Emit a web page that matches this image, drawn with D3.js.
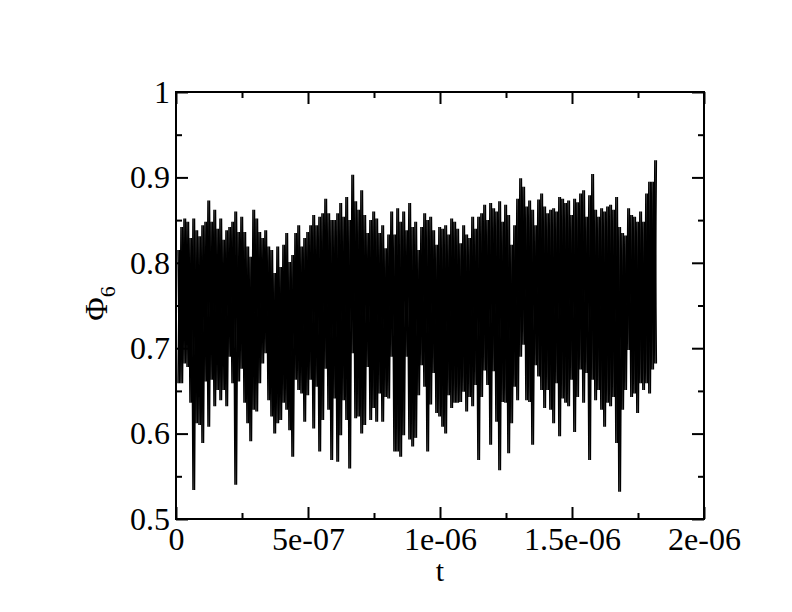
<!DOCTYPE html>
<meta charset="utf-8">
<script src="https://d3js.org/d3.v7.min.js"></script>
<style>
  body { margin: 0; background: #fff; }
  text { font-family: "Liberation Serif", "Times New Roman", serif; fill: #000; }
</style>
<div id="my_dataviz"></div>
<script>

// sampling of the series: start time and step (s)
var tStart = 7.6e-9,
    tStep = 1.136e-8;

// upper peaks of Phi_6, one per sample step
var phiHi = [
  0.815, 0.842, 0.852, 0.848, 0.829, 0.852, 0.838, 0.831, 0.844, 0.848,
  0.873, 0.848, 0.862, 0.840, 0.852, 0.827, 0.838, 0.842, 0.848, 0.860,
  0.836, 0.854, 0.836, 0.819, 0.807, 0.862, 0.852, 0.836, 0.829, 0.838,
  0.819, 0.815, 0.788, 0.819, 0.795, 0.821, 0.835, 0.801, 0.809, 0.835,
  0.844, 0.819, 0.829, 0.836, 0.844, 0.856, 0.844, 0.854, 0.858, 0.875,
  0.858, 0.850, 0.850, 0.858, 0.870, 0.854, 0.877, 0.850, 0.903, 0.872,
  0.862, 0.885, 0.856, 0.835, 0.850, 0.860, 0.852, 0.835, 0.844, 0.817,
  0.833, 0.860, 0.833, 0.864, 0.848, 0.860, 0.838, 0.870, 0.842, 0.848,
  0.815, 0.842, 0.858, 0.850, 0.854, 0.838, 0.821, 0.842, 0.840, 0.844,
  0.833, 0.852, 0.848, 0.840, 0.823, 0.844, 0.833, 0.829, 0.854, 0.840,
  0.854, 0.858, 0.868, 0.850, 0.870, 0.864, 0.860, 0.872, 0.848, 0.868,
  0.856, 0.821, 0.844, 0.875, 0.899, 0.889, 0.866, 0.873, 0.862, 0.844,
  0.874, 0.881, 0.866, 0.858, 0.862, 0.864, 0.860, 0.877, 0.875, 0.870,
  0.873, 0.856, 0.875, 0.871, 0.881, 0.885, 0.854, 0.879, 0.904, 0.862,
  0.854, 0.864, 0.860, 0.866, 0.868, 0.862, 0.877, 0.842, 0.835, 0.832,
  0.864, 0.856, 0.854, 0.848, 0.860, 0.848, 0.881, 0.895, 0.895, 0.920
];

// lower dips of Phi_6, one per sample step
var phiLo = [
  0.659, 0.659, 0.682, 0.678, 0.636, 0.534, 0.612, 0.610, 0.589, 0.661,
  0.608, 0.663, 0.632, 0.651, 0.639, 0.651, 0.632, 0.690, 0.659, 0.540,
  0.661, 0.676, 0.636, 0.612, 0.591, 0.628, 0.626, 0.659, 0.682, 0.694,
  0.639, 0.620, 0.600, 0.612, 0.616, 0.636, 0.628, 0.604, 0.573, 0.663,
  0.651, 0.647, 0.614, 0.645, 0.663, 0.606, 0.655, 0.579, 0.616, 0.676,
  0.628, 0.569, 0.641, 0.567, 0.598, 0.639, 0.616, 0.559, 0.694, 0.618,
  0.620, 0.600, 0.610, 0.678, 0.616, 0.630, 0.614, 0.647, 0.614, 0.643,
  0.641, 0.690, 0.579, 0.579, 0.573, 0.598, 0.690, 0.593, 0.585, 0.595,
  0.645, 0.680, 0.655, 0.579, 0.634, 0.671, 0.624, 0.620, 0.608, 0.600,
  0.645, 0.630, 0.636, 0.636, 0.637, 0.649, 0.626, 0.643, 0.632, 0.657,
  0.569, 0.643, 0.674, 0.657, 0.587, 0.673, 0.614, 0.557, 0.637, 0.636,
  0.577, 0.612, 0.655, 0.639, 0.690, 0.704, 0.639, 0.637, 0.587, 0.680,
  0.667, 0.651, 0.630, 0.651, 0.628, 0.612, 0.659, 0.597, 0.641, 0.636,
  0.632, 0.663, 0.602, 0.643, 0.675, 0.636, 0.671, 0.569, 0.663, 0.639,
  0.651, 0.628, 0.608, 0.636, 0.632, 0.643, 0.589, 0.532, 0.628, 0.651,
  0.698, 0.643, 0.647, 0.624, 0.659, 0.651, 0.659, 0.647, 0.675, 0.682
];

// ticks
var xMajor = [0, 5e-7, 1e-6, 1.5e-6, 2e-6];
var xLabels = ["0", "5e-07", "1e-06", "1.5e-06", "2e-06"];
var xMinor = [2.5e-7, 7.5e-7, 1.25e-6, 1.75e-6];
var yMajor = [0.5, 0.6, 0.7, 0.8, 0.9, 1.0];
var yLabels = ["0.5", "0.6", "0.7", "0.8", "0.9", "1"];
var yMinor = [0.55, 0.65, 0.75, 0.85, 0.95];

// set the dimensions and margins of the graph
var margin = {top: 92, right: 88, bottom: 93, left: 176},
    width = 792 - margin.left - margin.right,
    height = 612 - margin.top - margin.bottom;

var svg = d3.select("#my_dataviz")
  .append("svg")
    .attr("width", 792)
    .attr("height", 612)
  .append("g")
    .attr("transform", "translate(" + margin.left + "," + margin.top + ")");

var x = d3.scaleLinear().domain([0, 2e-6]).range([0, width]);
var y = d3.scaleLinear().domain([0.5, 1.0]).range([height, 0]);

// dense trace: each step goes peak -> dip, drawn in two phases so the core fills in
var traceA = [], traceB = [];
phiHi.forEach(function(h, i) {
  var t = tStart + i * tStep;
  traceA.push([t, h]);
  traceA.push([t + tStep / 2, phiLo[i]]);
  traceB.push([t, phiLo[i]]);
  traceB.push([t + tStep / 2, h]);
});

var line = d3.line()
  .x(function(d) { return x(d[0]); })
  .y(function(d) { return y(d[1]); });

svg.selectAll(".trace")
  .data([traceA, traceB])
  .enter()
  .append("path")
    .attr("class", "trace")
    .attr("fill", "none")
    .attr("stroke", "#000")
    .attr("stroke-width", 1.5)
    .attr("d", line);

// axes with inward ticks (major and minor, mirrored on top/right)
function style(g) {
  g.select(".domain").remove();
  g.selectAll(".tick line").attr("stroke", "#000").attr("stroke-width", 2);
  g.selectAll(".tick text").style("font-size", "32px").style("font-family", "Liberation Serif, serif");
}

svg.append("g")
  .attr("transform", "translate(0," + height + ")")
  .call(d3.axisBottom(x).tickValues(xMajor).tickSize(-12).tickPadding(8)
    .tickFormat(function(d, i) { return xLabels[i]; }))
  .call(style);
svg.append("g")
  .attr("transform", "translate(0," + height + ")")
  .call(d3.axisBottom(x).tickValues(xMinor).tickSize(-6).tickFormat(""))
  .call(style);
svg.append("g")
  .call(d3.axisTop(x).tickValues(xMajor).tickSize(-12).tickFormat(""))
  .call(style);
svg.append("g")
  .call(d3.axisTop(x).tickValues(xMinor).tickSize(-6).tickFormat(""))
  .call(style);

svg.append("g")
  .call(d3.axisLeft(y).tickValues(yMajor).tickSize(-12).tickPadding(6)
    .tickFormat(function(d, i) { return yLabels[i]; }))
  .call(style);
svg.append("g")
  .call(d3.axisLeft(y).tickValues(yMinor).tickSize(-6).tickFormat(""))
  .call(style);
svg.append("g")
  .attr("transform", "translate(" + width + ",0)")
  .call(d3.axisRight(y).tickValues(yMajor).tickSize(-12).tickFormat(""))
  .call(style);
svg.append("g")
  .attr("transform", "translate(" + width + ",0)")
  .call(d3.axisRight(y).tickValues(yMinor).tickSize(-6).tickFormat(""))
  .call(style);

// frame
svg.append("rect")
  .attr("x", 0).attr("y", 0)
  .attr("width", width).attr("height", height)
  .attr("fill", "none").attr("stroke", "#000").attr("stroke-width", 2);

// axis titles
svg.append("text")
  .attr("x", width / 2).attr("y", height + 62)
  .attr("text-anchor", "middle")
  .style("font-size", "30px")
  .text("t");

var yt = svg.append("text")
  .attr("transform", "translate(" + (-69) + "," + (height / 2 - 2) + ") rotate(-90)")
  .attr("text-anchor", "middle")
  .style("font-size", "32px");
yt.append("tspan").text("Φ");
yt.append("tspan").attr("dy", 8).style("font-size", "22px").text("6");

</script>
